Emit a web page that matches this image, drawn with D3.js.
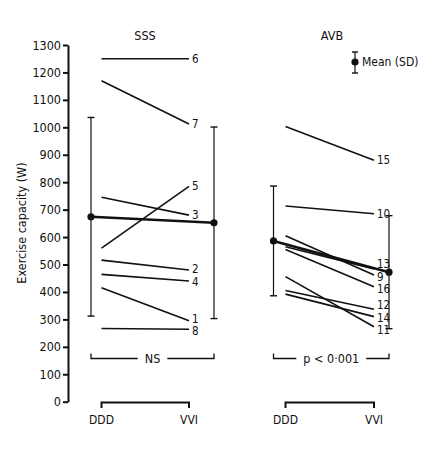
<!DOCTYPE html>
<html>
<head>
<meta charset="utf-8">
<script src="https://cdn.jsdelivr.net/npm/d3@7"></script>
<style>
  body { margin: 0; background: #fff; }
  svg text { font-family: "DejaVu Sans Condensed", "DejaVu Sans", sans-serif; fill: #111; }
</style>
</head>
<body>
<svg id="chart" width="435" height="451"></svg>
<script>
// exercise capacity (W), individual patients, DDD vs VVI pacing
var conditions = ["DDD", "VVI"];
var yTicks = [0, 100, 200, 300, 400, 500, 600, 700, 800, 900, 1000, 1100, 1200, 1300];

var sssIds = ["6", "7", "5", "3", "2", "4", "1", "8"];
var sssDDD = [1250, 1170, 560, 745, 516, 464, 415, 267];
var sssVVI = [1250, 1012, 785, 680, 480, 440, 295, 264];
var sssMean = [674, 652];
var sssSD = [362, 349];

var avbIds = ["15", "10", "9", "13", "16", "11", "12", "14"];
var avbDDD = [1003, 713, 605, 565, 555, 456, 405, 392];
var avbVVI = [880, 685, 462, 484, 419, 273, 337, 310];
var avbMean = [586, 472];
var avbSD = [200, 206];

var svg = d3.select("#chart");

// shared y scale
var y = d3.scaleLinear().domain([0, 1300]).range([401.7, 45]);

/*
  draw the y axis with its title
*/
var yAxis = d3.axisLeft(y).tickValues(yTicks).tickFormat(d3.format("d")).tickSize(5).tickSizeOuter(0);
var gy = svg.append("g").attr("transform", "translate(68,0)").call(yAxis);
gy.select(".domain").attr("stroke", "#111").attr("stroke-width", 2);
gy.selectAll(".tick line").attr("stroke", "#111").attr("stroke-width", 2);
gy.selectAll(".tick text").attr("font-size", 12.5).attr("x", -7);

svg.append("text")
  .attr("transform", "translate(26,223) rotate(-90)")
  .attr("text-anchor", "middle")
  .attr("font-size", 12.5)
  .text("Exercise capacity (W)");

/*
  draw one panel: individual lines, mean (SD) bars, bracket, labels
*/
function drawPanel(p) {
  var g = svg.append("g");
  var xInd = d3.scalePoint().domain(conditions).range(p.lineRange);
  var xMean = d3.scalePoint().domain(conditions).range(p.meanRange);

  // panel title
  g.append("text")
    .attr("x", p.titleX).attr("y", 40)
    .attr("text-anchor", "middle")
    .attr("font-size", 12.5)
    .text(p.title);

  // individual patient lines
  var rows = p.ids.map(function (id, i) {
    return { id: id, a: p.ddd[i], b: p.vvi[i] };
  });
  g.selectAll(".pt")
    .data(rows)
    .enter().append("line")
    .attr("x1", xInd("DDD")).attr("x2", xInd("VVI"))
    .attr("y1", function (d) { return y(d.a); })
    .attr("y2", function (d) { return y(d.b); })
    .attr("stroke", "#111").attr("stroke-width", 1.6);

  // label positions: nudge apart so they don't overlap
  var space = 12.5;
  var labs = rows.map(function (d) { return { id: d.id, y: y(d.b) }; })
    .sort(function (m, n) { return m.y - n.y; });
  for (var k = 0; k < 60; k++) {
    for (var j = 1; j < labs.length; j++) {
      var gap = labs[j].y - labs[j - 1].y;
      if (gap < space) {
        var push = (space - gap) / 2;
        labs[j].y += push;
        labs[j - 1].y -= push;
      }
    }
  }
  g.selectAll(".lab")
    .data(labs)
    .enter().append("text")
    .attr("x", xInd("VVI") + 3)
    .attr("y", function (d) { return d.y; })
    .attr("dy", "0.36em")
    .attr("font-size", 11.5)
    .text(function (d) { return d.id; });

  // mean (SD) error bars
  conditions.forEach(function (c, i) {
    var cx = xMean(c);
    g.append("line")
      .attr("x1", cx).attr("x2", cx)
      .attr("y1", y(p.mean[i] + p.sd[i])).attr("y2", y(p.mean[i] - p.sd[i]))
      .attr("stroke", "#111").attr("stroke-width", 1.2);
    [p.mean[i] + p.sd[i], p.mean[i] - p.sd[i]].forEach(function (v) {
      g.append("line")
        .attr("x1", cx - 3.5).attr("x2", cx + 3.5)
        .attr("y1", y(v)).attr("y2", y(v))
        .attr("stroke", "#111").attr("stroke-width", 1.4);
    });
  });
  g.append("line")
    .attr("x1", xMean("DDD")).attr("x2", xMean("VVI"))
    .attr("y1", y(p.mean[0])).attr("y2", y(p.mean[1]))
    .attr("stroke", "#111").attr("stroke-width", 2.6);
  g.selectAll(".mdot")
    .data(p.mean)
    .enter().append("circle")
    .attr("cx", function (d, i) { return xMean(conditions[i]); })
    .attr("cy", function (d) { return y(d); })
    .attr("r", 3.6)
    .attr("fill", "#111");

  // significance bracket
  var x0 = xMean("DDD"), x1 = xMean("VVI"), by = 358.5;
  var mid = (x0 + x1) / 2;
  var st = g.append("text")
    .attr("x", mid).attr("y", by).attr("dy", "0.36em")
    .attr("text-anchor", "middle")
    .attr("font-size", 12.5)
    .text(p.stat);
  var half = st.node().getComputedTextLength() / 2 + 7;
  g.append("path")
    .attr("d", "M" + x0 + "," + (by - 5) + "V" + by + "H" + (mid - half) +
      "M" + (mid + half) + "," + by + "H" + x1 + "V" + (by - 5))
    .attr("fill", "none").attr("stroke", "#111").attr("stroke-width", 1.3);

  // x axis bracket with condition labels
  g.append("path")
    .attr("d", "M" + xInd("DDD") + ",408V402.5H" + xInd("VVI") + "V408")
    .attr("fill", "none").attr("stroke", "#111").attr("stroke-width", 2);
  g.selectAll(".cond")
    .data(conditions)
    .enter().append("text")
    .attr("x", function (d) { return xInd(d); })
    .attr("y", 424)
    .attr("text-anchor", "middle")
    .attr("font-size", 12)
    .text(function (d) { return d; });
}

drawPanel({ title: "SSS", titleX: 145, ids: sssIds, ddd: sssDDD, vvi: sssVVI,
  mean: sssMean, sd: sssSD, stat: "NS", lineRange: [101.5, 189], meanRange: [91, 214] });
drawPanel({ title: "AVB", titleX: 332, ids: avbIds, ddd: avbDDD, vvi: avbVVI,
  mean: avbMean, sd: avbSD, stat: "p < 0\u00B7001", lineRange: [285.5, 374], meanRange: [273.5, 389] });

// legend
var leg = svg.append("g").attr("transform", "translate(355,62)");
leg.append("line").attr("y1", -10).attr("y2", 11).attr("stroke", "#111").attr("stroke-width", 1.2);
leg.append("line").attr("x1", -3).attr("x2", 3).attr("y1", -10).attr("y2", -10).attr("stroke", "#111").attr("stroke-width", 1.4);
leg.append("line").attr("x1", -3).attr("x2", 3).attr("y1", 11).attr("y2", 11).attr("stroke", "#111").attr("stroke-width", 1.4);
leg.append("circle").attr("r", 3.6).attr("fill", "#111");
leg.append("text").attr("x", 7).attr("dy", "0.36em").attr("font-size", 12).text("Mean (SD)");
</script>
</body>
</html>
